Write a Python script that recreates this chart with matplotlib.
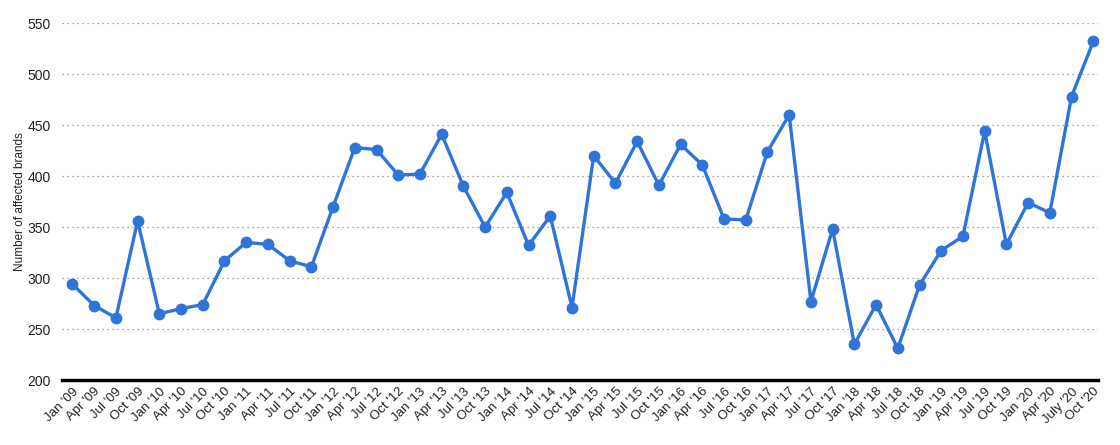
import matplotlib

matplotlib.use('Agg')
import matplotlib.pyplot as plt

plt.rcParams['font.family'] = ['Liberation Sans', 'DejaVu Sans']

months = ['Jan', 'Apr', 'Jul', 'Oct']
years = list(range(9, 21))
quarter_labels = []
for yr in years:
    for m in months:
        name = 'July' if (yr == 20 and m == 'Jul') else m
        quarter_labels.append(f"{name} '{yr:02d}")

affected_brands = [
    294, 273, 261, 356,
    265, 270, 274, 317,
    335, 333, 317, 311,
    370, 428, 426, 401,
    402, 441, 390, 350,
    384, 332, 361, 271,
    420, 393, 434, 391,
    431, 411, 358, 357,
    424, 460, 277, 348,
    235, 274, 231, 293,
    327, 341, 444, 333,
    374, 364, 478, 532,
]

y_ticks = [200, 250, 300, 350, 400, 450, 500, 550]


def draw_chart():
    fig = plt.figure(figsize=(11.2, 4.45), dpi=100)
    ax = fig.add_axes([0.055, 0.146, 0.925, 0.802])

    x = list(range(len(affected_brands)))
    ax.plot(x, affected_brands, color='#2f74d8', linewidth=2.4,
            marker='o', markersize=7.5, zorder=3)

    ax.set_ylim(200, 550)
    ax.set_xlim(-0.5, 47.2)
    ax.set_yticks(y_ticks)
    ax.set_xticks(x)
    ax.set_xticklabels(quarter_labels, rotation=45, ha='right',
                       rotation_mode='anchor', fontsize=9.5, color='#222222')
    ax.tick_params(axis='y', labelsize=10, colors='#222222', length=0, pad=8)
    ax.tick_params(axis='x', length=0, pad=4)

    ax.grid(axis='y', linestyle=(0, (1, 3)), color='#888888', linewidth=0.9)
    for side in ['top', 'right', 'left']:
        ax.spines[side].set_visible(False)
    ax.spines['bottom'].set_linewidth(2.5)
    ax.spines['bottom'].set_color('black')
    ax.spines['bottom'].set_zorder(4)

    ax.set_ylabel('Number of affected brands', fontsize=8.5, color='#222222')
    ax.yaxis.set_label_coords(-0.034, 0.5)

    fig.savefig('out.png', dpi=100)


if __name__ == "__main__":
    draw_chart()
